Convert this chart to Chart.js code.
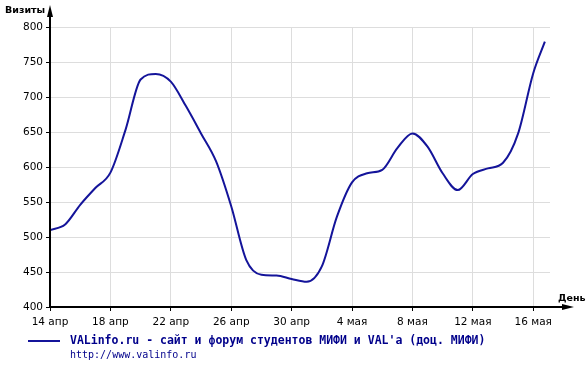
<!DOCTYPE html>
<html>
<head>
<meta charset="utf-8">
<script src="https://cdn.jsdelivr.net/npm/chart.js@4/dist/chart.umd.min.js"></script>
<style>
  html, body { margin: 0; padding: 0; background: #fff; }
  #wrap { position: relative; width: 588px; height: 365px; }
</style>
</head>
<body>
<div id="wrap"><canvas id="myChart" width="588" height="365"></canvas></div>
<script>
// days since 14 апр
const days = [0, 1, 2, 3, 4, 5, 6, 7, 8, 9, 10, 11, 12, 13, 14, 15, 16,
    17, 18, 19, 20, 21, 22, 23, 24, 25, 26, 27, 28, 29, 30, 31, 32, 32.77];
const visits = [510, 518, 546, 570, 592, 653, 725, 733, 722, 687, 648, 608, 544, 467, 446, 445, 440,
    436, 458, 529, 578, 591, 596, 627, 648, 629, 591, 567, 590, 598, 606, 648, 734, 779];
const tickDays = [0, 4, 8, 12, 16, 20, 24, 28, 32];
const tickLabels = ['14 апр', '18 апр', '22 апр', '26 апр', '30 апр', '4 мая', '8 мая', '12 мая', '16 мая'];
const seriesName = "VALinfo.ru - сайт и форум студентов МИФИ и VAL'а (доц. МИФИ)";
const seriesUrl = 'http://www.valinfo.ru';

const lineColor = '#14149a';

const extras = {
    id: 'extras',
    afterDraw(chart) {
        const ctx = chart.ctx;
        const a = chart.chartArea;
        ctx.save();
        ctx.strokeStyle = '#000';
        ctx.fillStyle = '#000';
        ctx.lineWidth = 2;
        // y axis with arrow
        ctx.beginPath();
        ctx.moveTo(a.left, a.bottom);
        ctx.lineTo(a.left, 12);
        ctx.stroke();
        ctx.beginPath();
        ctx.moveTo(a.left, 5);
        ctx.lineTo(a.left - 3, 17);
        ctx.lineTo(a.left + 3, 17);
        ctx.closePath();
        ctx.fill();
        // x axis with arrow
        ctx.beginPath();
        ctx.moveTo(a.left, a.bottom);
        ctx.lineTo(566, a.bottom);
        ctx.stroke();
        ctx.beginPath();
        ctx.moveTo(574, a.bottom);
        ctx.lineTo(562, a.bottom - 3);
        ctx.lineTo(562, a.bottom + 3);
        ctx.closePath();
        ctx.fill();
        // axis titles
        ctx.font = 'bold 9.5px "DejaVu Sans", Verdana, sans-serif';
        ctx.textBaseline = 'middle';
        ctx.textAlign = 'left';
        ctx.fillText('Визиты', 5, 11);
        ctx.fillText('День', 558, 299);
        // legend
        ctx.strokeStyle = lineColor;
        ctx.beginPath();
        ctx.moveTo(28, 341);
        ctx.lineTo(60, 341);
        ctx.stroke();
        ctx.fillStyle = '#00008b';
        ctx.font = 'bold 11.5px "DejaVu Sans Mono", monospace';
        ctx.fillText(seriesName, 70, 341);
        ctx.font = '10px "DejaVu Sans Mono", monospace';
        ctx.fillText(seriesUrl, 70, 355);
        ctx.restore();
    }
};

new Chart(document.getElementById('myChart'), {
    type: 'line',
    data: {
        datasets: [{
            label: seriesName,
            data: days.map((d, i) => ({x: d, y: visits[i]})),
            borderColor: lineColor,
            borderWidth: 2,
            pointRadius: 0,
            tension: 0.4,
            cubicInterpolationMode: 'monotone',
            fill: false
        }]
    },
    options: {
        responsive: false,
        animation: false,
        layout: {padding: {left: 0, top: 27, right: 38, bottom: 38}},
        plugins: {legend: {display: false}, tooltip: {enabled: false}},
        scales: {
            x: {
                type: 'linear',
                min: 0,
                max: 33.11,
                afterBuildTicks: s => { s.ticks = tickDays.map(v => ({value: v})); },
                afterFit: s => { s.height = 20; },
                border: {display: false},
                grid: {color: '#dddddd', tickColor: '#000', tickLength: 4, lineWidth: 1},
                ticks: {
                    color: '#000',
                    padding: 5,
                    maxRotation: 0,
                    autoSkip: false,
                    font: {family: '"DejaVu Sans", Verdana, sans-serif', size: 10.5},
                    callback: (v) => tickLabels[tickDays.indexOf(v)]
                }
            },
            y: {
                min: 400,
                max: 800,
                afterFit: s => { s.width = 50; },
                border: {display: false},
                grid: {color: '#dddddd', tickColor: '#000', tickLength: 4, lineWidth: 1},
                ticks: {
                    stepSize: 50,
                    color: '#000',
                    padding: 3,
                    font: {family: '"DejaVu Sans", Verdana, sans-serif', size: 10.5}
                }
            }
        }
    },
    plugins: [extras]
});
</script>
</body>
</html>
